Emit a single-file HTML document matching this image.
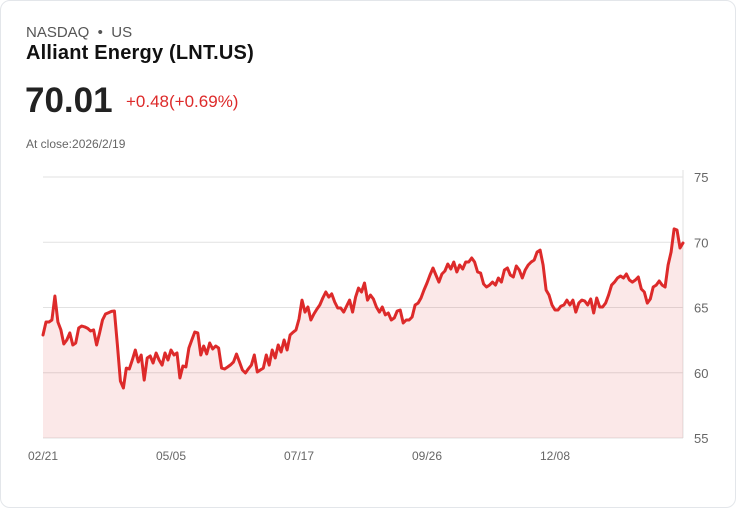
<!DOCTYPE html>
<html><head><meta charset="utf-8"><style>
body{margin:0;background:#fff;font-family:"Liberation Sans",sans-serif;}
.card{position:absolute;left:0;top:0;width:734px;height:506px;border:1px solid #e3e6ea;border-radius:10px;}
.t{position:absolute;white-space:nowrap;}
</style></head><body>
<div class="card">
<div class="t" style="left:25px;top:23px;font-size:15px;color:#555;">NASDAQ &nbsp;•&nbsp; US</div>
<div class="t" style="left:25px;top:41px;font-size:20px;font-weight:bold;color:#111;letter-spacing:0.2px;">Alliant Energy (LNT.US)</div>
<div class="t" style="left:24px;top:80px;font-size:35px;font-weight:bold;color:#222;">70.01</div>
<div class="t" style="left:125px;top:91px;font-size:17px;color:#dd2a2a;">+0.48(+0.69%)</div>
<div class="t" style="left:25px;top:136px;font-size:12px;color:#666;">At close:2026/2/19</div>
<svg id="chart" width="736" height="508" style="position:absolute;left:-1px;top:-1px;"></svg>
</div>
<script>
const values=[62.89,63.89,63.89,64.04,65.88,63.89,63.28,62.20,62.51,63.05,62.13,62.28,63.43,63.58,63.51,63.40,63.20,63.28,62.13,63.05,64.04,64.50,64.60,64.70,64.73,62.13,59.37,58.83,60.36,60.29,60.98,61.74,60.82,61.36,59.44,61.13,61.28,60.75,61.51,60.98,60.59,61.51,60.98,61.74,61.36,61.51,59.60,60.52,60.44,61.90,62.51,63.12,63.05,61.36,62.05,61.44,62.28,61.82,62.05,61.90,60.36,60.29,60.44,60.60,60.82,61.44,60.82,60.21,59.98,60.30,60.59,61.36,60.06,60.21,60.36,61.36,60.59,61.74,61.13,62.13,61.59,62.51,61.74,62.89,63.10,63.28,64.12,65.57,64.65,65.04,64.04,64.50,64.88,65.19,65.73,66.19,65.80,66.04,65.42,64.96,64.96,64.65,65.11,65.57,64.65,65.80,66.49,66.19,66.88,65.57,65.95,65.65,65.04,64.65,65.04,64.43,64.58,64.04,64.20,64.73,64.81,63.81,64.04,64.04,64.27,65.19,65.34,65.73,66.34,66.88,67.49,68.03,67.49,66.95,67.57,67.80,68.33,67.95,68.49,67.72,68.26,67.95,68.49,68.49,68.79,68.49,67.72,67.64,66.80,66.57,66.72,66.95,66.72,67.26,66.95,67.87,68.03,67.49,67.34,68.18,67.87,67.26,67.87,68.26,68.49,68.64,69.25,69.40,68.26,66.34,65.96,65.19,64.81,64.81,65.11,65.19,65.57,65.19,65.57,64.65,65.34,65.57,65.49,65.19,65.65,64.58,65.73,65.04,65.04,65.34,65.96,66.72,66.95,67.26,67.41,67.26,67.57,67.11,66.95,67.11,67.34,66.42,66.19,65.34,65.65,66.57,66.72,67.03,66.72,66.57,68.26,69.25,71.02,70.94,69.56,69.94];
const yTicks=[55,60,65,70,75];
const xLabels=["02/21","05/05","07/17","09/26","12/08"];
const xLabelIdx=[0,43,86,129,172];
const svg=document.getElementById('chart');const NS='http://www.w3.org/2000/svg';
const X0=43,X1=683,Y0=438,Y1=177,vmin=55,vmax=75;
const xs=i=>X0+(X1-X0)*i/(values.length-1);
const ys=v=>Y0-(v-vmin)/(vmax-vmin)*(Y0-Y1);
function mk(t,a){const e=document.createElementNS(NS,t);for(const k in a)e.setAttribute(k,a[k]);svg.appendChild(e);return e;}
yTicks.forEach(v=>{const l=mk('line',{x1:X0,x2:X1,y1:ys(v),y2:ys(v),stroke:'#e2e2e2','stroke-width':1});


const t=mk('text',{x:694,y:ys(v)+5,'font-size':13,fill:'#666','font-family':'Liberation Sans, sans-serif'});t.textContent=v;

});
const ax=mk('line',{x1:X1,x2:X1,y1:Y1-7,y2:Y0,stroke:'#e2e2e2'});


xLabels.forEach((s,i)=>{const t=mk('text',{x:xs(xLabelIdx[i]),y:460,'font-size':12,fill:'#666','text-anchor':'middle','font-family':'Liberation Sans, sans-serif'});t.textContent=s;

});
let d=values.map((v,i)=>(i?'L':'M')+xs(i).toFixed(1)+' '+ys(v).toFixed(1)).join(' ');
const area=mk('path',{d:d+` L${X1} ${Y0} L${X0} ${Y0} Z`,fill:'#dd2a2a','fill-opacity':0.11});


const line=mk('path',{d:d,fill:'none',stroke:'#dd2a2a','stroke-width':3,'stroke-linejoin':'round','stroke-linecap':'round'});


</script>
</body></html>
